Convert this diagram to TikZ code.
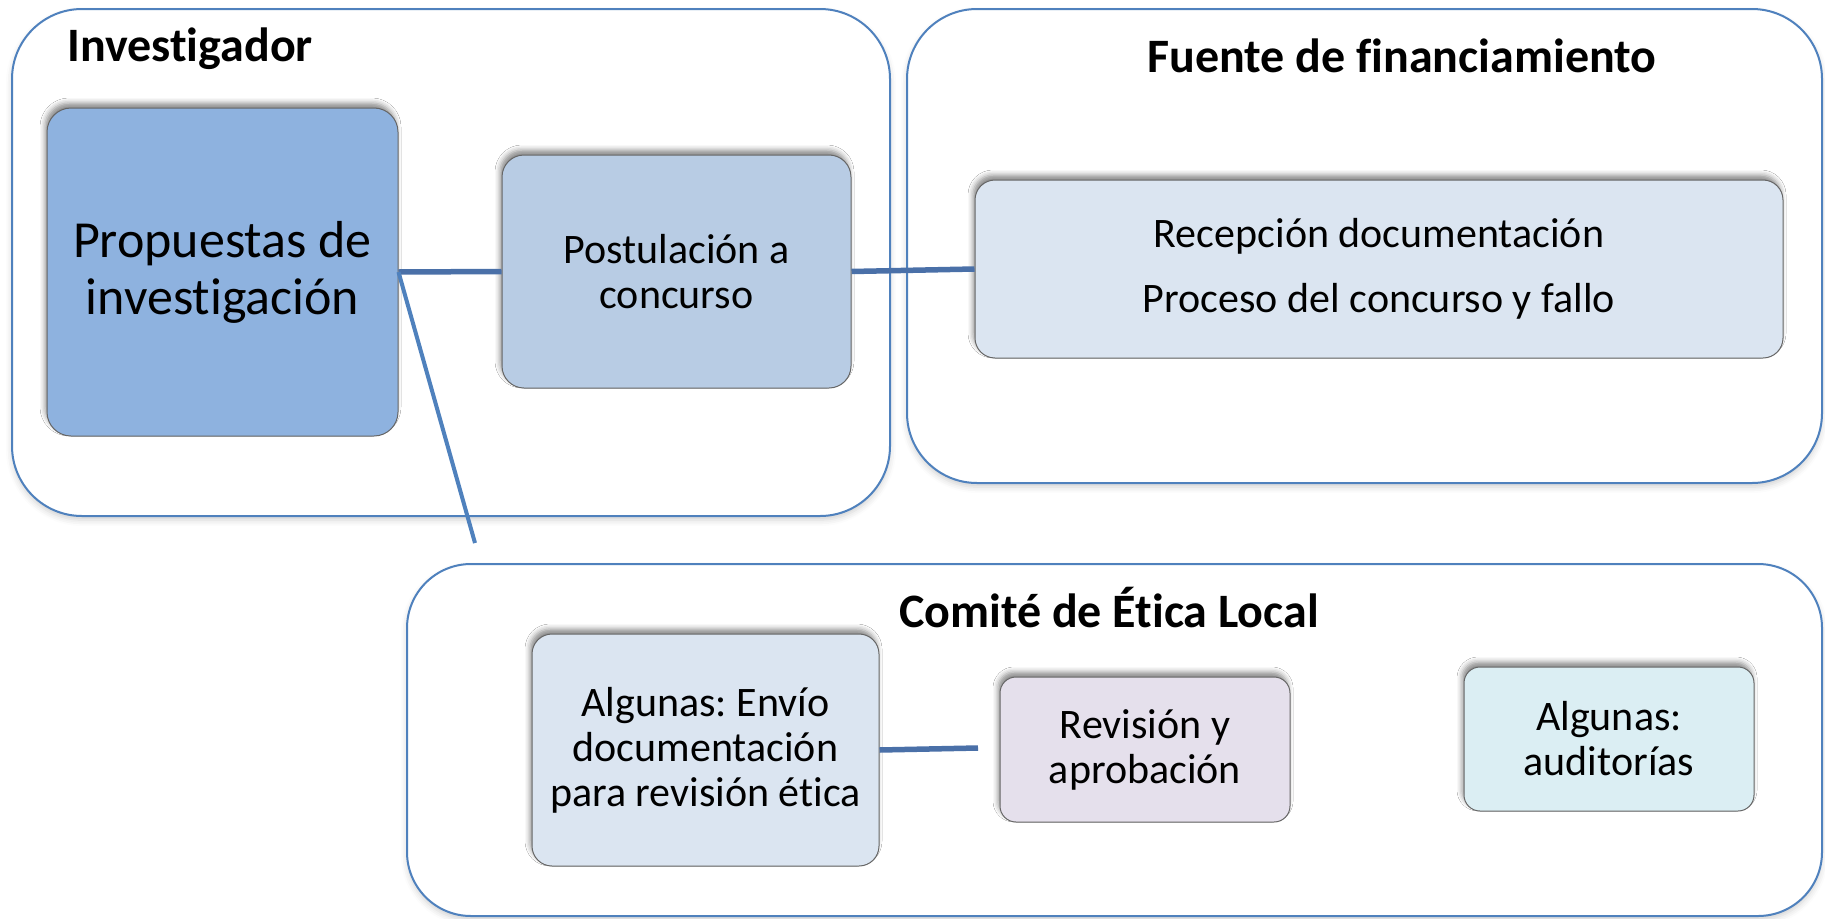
\documentclass[tikz,border=0pt]{standalone}
\usepackage{fontspec}
\setmainfont{Carlito}[Ligatures=NoCommon, RawFeature={-liga;-clig;-calt;-dlig}]
\frenchspacing
\usetikzlibrary{shadows.blur}
\definecolor{frameblue}{HTML}{4F81BD}
\definecolor{linkblue}{HTML}{4A70A8}
\definecolor{fillA}{HTML}{8EB2DF}
\definecolor{fillB}{HTML}{B8CCE4}
\definecolor{fillC}{HTML}{DBE5F1}
\definecolor{fillD}{HTML}{E5E0EC}
\definecolor{fillE}{HTML}{DBEEF3}
\begin{document}
\begin{tikzpicture}[x=1pt,y=-1pt,
  container/.style={draw=frameblue, line width=2pt, fill=white, rounded corners=#1,
    blur shadow={shadow xshift=0pt, shadow yshift=-4pt, shadow blur radius=6pt, shadow opacity=18}},
  container/.default=70pt,
  boxnode/.style={draw=black!60, line width=1pt, rounded corners=#1, align=center,
    inner sep=0pt, text=black,
    blur shadow={shadow xshift=-2pt, shadow yshift=5pt, shadow blur radius=5pt, shadow opacity=45}},
  boxnode/.default=20pt,
  bodyfont/.style={font=\fontsize{42}{45}\selectfont},
  titlefont/.style={font=\bfseries\fontsize{48}{58}\selectfont},
  thicklink/.style={draw=linkblue, line width=5.5pt},
  thinlink/.style={draw=frameblue, line width=4pt}
]
\useasboundingbox (0,0) rectangle (1825,918);
\begin{scope}
\clip (0,0) rectangle (1825,918);
% containers
\draw[container] (12,9) rectangle (890,516);
\draw[container] (907,9) rectangle (1822,483);
\draw[container=64pt] (407,564) rectangle (1822,916);

% titles
\node[titlefont, anchor=west, inner sep=0pt] (tinv) at (67,49) {Investigador};
\node[titlefont, inner sep=0pt] (tfue) at (1402,56) {Fuente de financiamiento};
\node[titlefont, inner sep=0pt] (tcom) at (1109,608) {Comité de Ética Local};

% boxes
\node[boxnode=24pt, fill=fillA, minimum width=351pt, minimum height=328pt,
      font=\fontsize{52}{57}\selectfont] (prop) at (222.5,272) {Propuestas de\\investigación};
\node[boxnode=22pt, fill=fillB, minimum width=349pt, minimum height=233pt, bodyfont]
      (post) at (676.5,271.5) {Postulación a\\concurso};
\node[boxnode=20pt, fill=fillC, minimum width=808pt, minimum height=178pt,
      font=\fontsize{42}{65}\selectfont] (rec) at (1379,269) {Recepción documentación\\Proceso del concurso y fallo};
\node[boxnode=20pt, fill=fillC, minimum width=347pt, minimum height=232pt, bodyfont]
      (env) at (705.5,750) {Algunas: Envío\\documentación\\para revisión ética};
\node[boxnode=16pt, fill=fillD, minimum width=290pt, minimum height=145pt, bodyfont]
      (rev) at (1145,749.5) {Revisión y\\aprobación};
\node[boxnode=16pt, fill=fillE, minimum width=290pt, minimum height=144pt, bodyfont]
      (aud) at (1609,739) {Algunas:\\auditorías};

% connectors
\coordinate (diagend) at (475,543);
\coordinate (envend) at (978,748);
\draw[thicklink] (prop.east) -- (post.west);
\draw[thicklink] (post.east) -- (rec.west);
\draw[thinlink] (prop.east) -- (diagend);
\draw[thicklink] (env.east) -- (envend);
\end{scope}
\end{tikzpicture}
\end{document}
